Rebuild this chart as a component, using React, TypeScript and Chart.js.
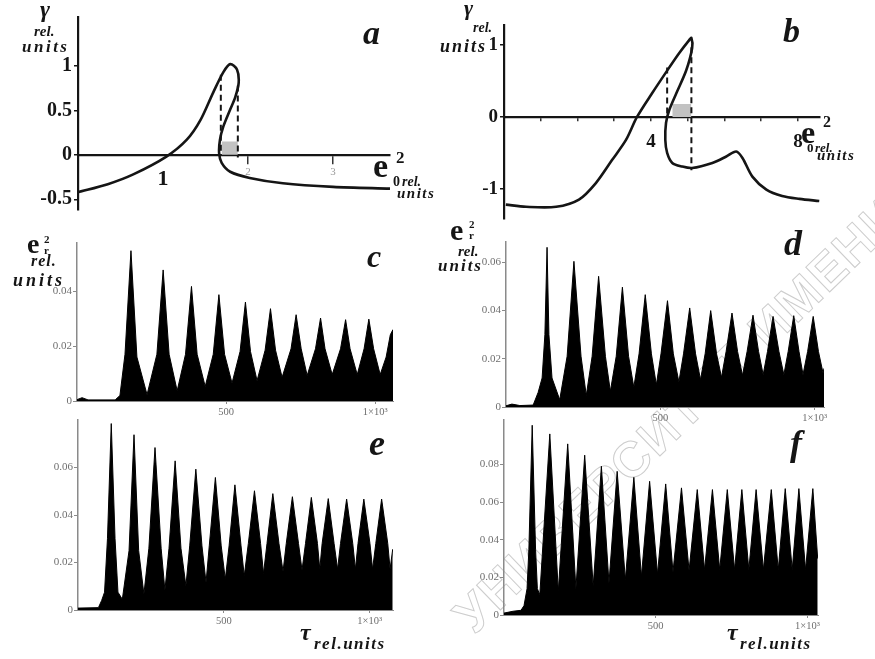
import React, { useEffect, useRef } from 'react';
import { Chart, registerables } from 'chart.js';

Chart.register(...registerables);

const W = 875;
const H = 659;
const SERIF = '"Liberation Serif", "DejaVu Serif", serif';

// ---------- panel a : gamma vs e0^2 ----------
const A_X = [0, 0.35, 0.65, 1.04, 1.28, 1.44, 1.59, 1.71, 1.79, 1.87, 1.89, 1.85, 1.79, 1.71, 1.67, 1.66, 1.69, 1.79, 2.02, 2.41, 3.0, 3.67];
const A_Y = [-0.42, -0.33, -0.22, -0.02, 0.17, 0.39, 0.7, 0.93, 1.02, 0.96, 0.81, 0.65, 0.51, 0.32, 0.17, 0.02, -0.09, -0.19, -0.26, -0.32, -0.36, -0.38];
const A_DASH_X = [1.68, 1.88];
const A_DASH_TOP = [0.9, 0.78];
const A_DASH_BOT = [0, -0.03];
const A_SHADE_X = [1.69, 1.88];
const A_SHADE_H = 0.15;
const A_XTICKS = [1, 2, 3];
const A_YTICKS = [-0.5, 0, 0.5, 1];

// ---------- panel b ----------
const B_X = [0.05, 0.6, 1.42, 2.04, 2.5, 2.94, 3.32, 3.62, 4.03, 4.5, 4.77, 5.04, 5.1, 5.12, 4.96, 4.69, 4.5, 4.41, 4.39, 4.44, 4.58, 4.85, 5.12, 5.67, 6.05, 6.32, 6.49, 6.76, 7.14, 7.57, 8.04, 8.58];
const B_Y = [-1.22, -1.25, -1.25, -1.15, -0.92, -0.6, -0.32, 0, 0.33, 0.69, 0.89, 1.07, 1.1, 0.96, 0.65, 0.33, 0.1, -0.08, -0.32, -0.5, -0.64, -0.69, -0.71, -0.64, -0.55, -0.48, -0.57, -0.83, -1.01, -1.1, -1.14, -1.17];
const B_DASH_X = [4.44, 5.1];
const B_DASH_TOP = [0.69, 0.97];
const B_DASH_BOT = [0, -0.74];
const B_SHADE_X = [4.58, 5.1];
const B_SHADE_H = 0.18;
const B_XTICKS = [1, 2, 3, 4, 5, 6, 7, 8];
const B_XLABELED = [4, 8];
const B_YTICKS = [-1, 0, 1];

// ---------- panels c-f : e_r^2 vs tau ----------
const T_TICKS = [500, 1000];

const C_TAU = [0, 17, 37, 128, 144, 161, 181, 201, 235, 268, 289, 309, 336, 364, 384, 403, 430, 457, 476, 495, 520, 547, 565, 582, 604, 631, 649, 666, 688, 718, 735, 752, 772, 800, 817, 832, 856, 884, 901, 916, 940, 963, 979, 995, 1017, 1037, 1051, 1060];
const C_E2 = [0.0005, 0.0012, 0.0004, 0.0004, 0.002, 0.017, 0.0547, 0.016, 0.0023, 0.017, 0.0477, 0.017, 0.0037, 0.017, 0.0417, 0.017, 0.0053, 0.017, 0.0387, 0.017, 0.0065, 0.018, 0.036, 0.018, 0.0074, 0.0185, 0.0336, 0.0185, 0.0086, 0.019, 0.0314, 0.019, 0.0093, 0.019, 0.0302, 0.019, 0.0096, 0.019, 0.0296, 0.019, 0.0096, 0.019, 0.0298, 0.019, 0.0096, 0.016, 0.0241, 0.026];
const C_YTICKS = [0, 0.02, 0.04];

const D_TAU = [0, 19, 45, 88, 104, 117, 126, 133, 139, 149, 174, 198, 220, 243, 260, 279, 300, 322, 338, 357, 377, 397, 414, 431, 451, 471, 487, 502, 523, 542, 560, 575, 595, 614, 630, 645, 663, 682, 698, 713, 732, 750, 766, 781, 800, 818, 833, 847, 865, 884, 900, 914, 932, 949, 962, 977, 995, 1012, 1027, 1030];
const D_E2 = [0.0005, 0.0012, 0.0006, 0.0008, 0.006, 0.012, 0.03, 0.0661, 0.03, 0.012, 0.003, 0.021, 0.0603, 0.021, 0.0048, 0.021, 0.0541, 0.021, 0.0065, 0.021, 0.0496, 0.021, 0.0082, 0.022, 0.0465, 0.022, 0.0092, 0.022, 0.044, 0.022, 0.0104, 0.022, 0.041, 0.022, 0.0113, 0.022, 0.0399, 0.022, 0.0123, 0.023, 0.0389, 0.023, 0.0131, 0.023, 0.038, 0.023, 0.0134, 0.023, 0.0375, 0.023, 0.0134, 0.023, 0.0378, 0.023, 0.0134, 0.023, 0.0375, 0.023, 0.014, 0.016];
const D_YTICKS = [0, 0.02, 0.04, 0.06];

const E_TAU = [0, 70, 81, 91, 101, 114, 127, 137, 152, 175, 192, 208, 226, 243, 264, 285, 298, 312, 333, 353, 370, 383, 404, 425, 439, 450, 471, 491, 505, 518, 538, 559, 570, 584, 605, 626, 636, 648, 668, 689, 703, 714, 735, 756, 768, 780, 800, 821, 829, 837, 858, 878, 890, 900, 921, 942, 951, 960, 980, 1001, 1010, 1021, 1041, 1062, 1070, 1079];
const E_E2 = [0.0008, 0.001, 0.004, 0.0075, 0.03, 0.0785, 0.03, 0.0075, 0.0045, 0.025, 0.0738, 0.025, 0.0067, 0.026, 0.0684, 0.026, 0.0083, 0.026, 0.0628, 0.026, 0.0102, 0.027, 0.0593, 0.027, 0.0116, 0.027, 0.0558, 0.027, 0.013, 0.027, 0.0527, 0.027, 0.0144, 0.028, 0.0502, 0.028, 0.0154, 0.028, 0.049, 0.028, 0.0162, 0.028, 0.0477, 0.028, 0.0168, 0.028, 0.0474, 0.028, 0.0172, 0.028, 0.0469, 0.028, 0.0172, 0.028, 0.0467, 0.028, 0.0172, 0.028, 0.0467, 0.028, 0.0172, 0.028, 0.0467, 0.028, 0.0172, 0.0256];
const E_YTICKS = [0, 0.02, 0.04, 0.06];

const F_TAU = [0, 30, 56, 66, 76, 82, 93, 104, 110, 118, 151, 179, 210, 237, 266, 294, 321, 346, 373, 400, 428, 453, 480, 506, 533, 557, 585, 610, 637, 661, 687, 711, 736, 760, 784, 807, 831, 855, 881, 904, 927, 950, 972, 994, 1018, 1034];
const F_E2 = [0.001, 0.002, 0.0025, 0.005, 0.014, 0.035, 0.1009, 0.035, 0.014, 0.0108, 0.0963, 0.0126, 0.091, 0.014, 0.085, 0.0153, 0.0791, 0.017, 0.0764, 0.0188, 0.0732, 0.0206, 0.0711, 0.0218, 0.0697, 0.0229, 0.0676, 0.0236, 0.0667, 0.0241, 0.0667, 0.0241, 0.0667, 0.0241, 0.0667, 0.0241, 0.0667, 0.0241, 0.0667, 0.0241, 0.0672, 0.0241, 0.0672, 0.0241, 0.0672, 0.03];
const F_YTICKS = [0, 0.02, 0.04, 0.06, 0.08];

type Area = { l: number; t: number; r: number; b: number };

const fixedTicks = (vals: number[]) => (s: any) => {
  s.ticks = vals.map((v) => ({ value: v }));
};
const pts = (xs: number[], ys: number[]) => xs.map((x, i) => ({ x, y: ys[i] }));

const baseOpts = (padding: any) => ({
  animation: false as const,
  responsive: false,
  events: [] as any[],
  layout: { padding },
  plugins: { legend: { display: false }, tooltip: { enabled: false } },
});

function curveChart(
  canvas: HTMLCanvasElement,
  p: {
    xs: number[]; ys: number[]; dashX: number[]; dashTop: number[]; dashBot: number[];
    shadeX: number[]; shadeH: number; area: Area; xMax: number; yMin: number; yMax: number;
    xTicks: number[]; yTicks: number[]; xLabel: (v: number) => string; xFont: (v: number) => any;
    xColor: (v: number) => string; xTickLen: number; xPad: number; xTickColor: (v: number) => string; yFontSize: number;
  },
) {
  const a = p.area;
  const datasets: any[] = [
    { data: pts(p.xs, p.ys), borderColor: '#151515', borderWidth: 2.6, tension: 0.3, pointRadius: 0, fill: false },
  ];
  p.dashX.forEach((x, i) => {
    datasets.push({
      data: [{ x, y: p.dashTop[i] }, { x, y: p.dashBot[i] }],
      borderColor: '#151515', borderWidth: 2, borderDash: [6, 4], pointRadius: 0, fill: false,
    });
  });
  datasets.push({
    data: [{ x: p.shadeX[0], y: p.shadeH }, { x: p.shadeX[1], y: p.shadeH }],
    borderWidth: 0, borderColor: 'rgba(0,0,0,0)', backgroundColor: '#c2c2c2', fill: 'origin', pointRadius: 0,
  });
  return new Chart(canvas, {
    type: 'line',
    data: { datasets },
    options: {
      ...baseOpts({ left: 0, top: a.t, right: W - a.r, bottom: H - a.b }),
      scales: {
        x: {
          type: 'linear', position: { y: 0 } as any, min: 0, max: p.xMax,
          afterFit: (s: any) => { s.height = 0; },
          afterBuildTicks: fixedTicks(p.xTicks),
          border: { display: true, color: '#151515', width: 2.2 },
          grid: {
            drawOnChartArea: false, drawTicks: true, tickLength: p.xTickLen, lineWidth: 1.5,
            color: '#151515', tickColor: (c: any) => p.xTickColor(c.tick ? c.tick.value : 0),
          },
          ticks: {
            autoSkip: false, maxRotation: 0, padding: p.xPad,
            color: (c: any) => p.xColor(c.tick ? c.tick.value : 0),
            font: (c: any) => p.xFont(c.tick ? c.tick.value : 0),
            callback: (v: any) => p.xLabel(Number(v)),
          },
        },
        y: {
          type: 'linear', position: 'left', min: p.yMin, max: p.yMax,
          afterFit: (s: any) => { s.width = a.l; },
          afterBuildTicks: fixedTicks(p.yTicks),
          border: { display: true, color: '#151515', width: 2.2 },
          grid: { drawOnChartArea: false, drawTicks: true, tickLength: 4, lineWidth: 1.5, color: '#151515' },
          ticks: {
            padding: 2, color: '#151515',
            font: { family: SERIF, size: p.yFontSize, weight: 'bold' },
            callback: (v: any) => String(v),
          },
        },
      },
    } as any,
  });
}

function signalChart(canvas: HTMLCanvasElement, tau: number[], e2: number[], a: Area, xMax: number, yMax: number, yTicks: number[]) {
  return new Chart(canvas, {
    type: 'line',
    data: {
      datasets: [
        { data: pts(tau, e2), borderColor: '#000', backgroundColor: '#000', borderWidth: 1, fill: 'origin', tension: 0, pointRadius: 0 },
      ],
    },
    options: {
      ...baseOpts({ left: 0, top: a.t, right: W - a.r, bottom: 0 }),
      scales: {
        x: {
          type: 'linear', position: 'bottom', min: 0, max: xMax,
          afterFit: (s: any) => { s.height = H - a.b; },
          afterBuildTicks: fixedTicks(T_TICKS),
          border: { display: true, color: '#8a8a8a', width: 1 },
          grid: { drawOnChartArea: false, tickLength: 3, color: '#8a8a8a' },
          ticks: {
            autoSkip: false, maxRotation: 0, padding: 2, color: '#6f6f6f',
            font: { family: SERIF, size: 10.5 },
            callback: (v: any) => (Number(v) === 1000 ? '1×10³' : String(v)),
          },
        },
        y: {
          type: 'linear', position: 'left', min: 0, max: yMax,
          afterFit: (s: any) => { s.width = a.l; },
          afterBuildTicks: fixedTicks(yTicks),
          border: { display: true, color: '#8a8a8a', width: 1.5 },
          grid: { drawOnChartArea: false, tickLength: 4, color: '#8a8a8a' },
          ticks: { padding: 1, color: '#6f6f6f', font: { family: SERIF, size: 11 }, callback: (v: any) => String(v) },
        },
      },
    } as any,
  });
}

type T = { t: string; x: number; y: number; s: number; i?: boolean; sp?: number };

const TEXTS: T[] = [
  // panel a
  { t: 'γ', x: 40, y: -3, s: 24, i: true },
  { t: 'rel.', x: 34, y: 24, s: 15, i: true },
  { t: 'units', x: 22, y: 38, s: 17, i: true, sp: 2.5 },
  { t: 'a', x: 363, y: 16, s: 34, i: true },
  { t: 'e', x: 373, y: 149, s: 34 },
  { t: '2', x: 396, y: 149, s: 17 },
  { t: '0', x: 393, y: 175, s: 14 },
  { t: 'rel.', x: 402, y: 175, s: 14, i: true },
  { t: 'units', x: 397, y: 186, s: 15, i: true, sp: 1.5 },
  // panel b
  { t: 'γ', x: 464, y: -3, s: 22, i: true },
  { t: 'rel.', x: 473, y: 21, s: 14, i: true },
  { t: 'units', x: 440, y: 37, s: 18, i: true, sp: 2 },
  { t: 'b', x: 783, y: 14, s: 34, i: true },
  { t: 'e', x: 801, y: 116, s: 32 },
  { t: '2', x: 823, y: 114, s: 16 },
  { t: '0', x: 807, y: 141, s: 13 },
  { t: 'rel.', x: 815, y: 141, s: 13, i: true },
  { t: 'units', x: 817, y: 148, s: 15, i: true, sp: 1.5 },
  // panel c
  { t: 'e', x: 27, y: 230, s: 28 },
  { t: '2', x: 44, y: 234, s: 11 },
  { t: 'r', x: 44, y: 245, s: 11 },
  { t: 'rel.', x: 31, y: 253, s: 16, i: true, sp: 1 },
  { t: 'units', x: 13, y: 271, s: 18, i: true, sp: 3 },
  { t: 'c', x: 367, y: 240, s: 32, i: true },
  // panel d
  { t: 'e', x: 450, y: 215, s: 30 },
  { t: '2', x: 469, y: 219, s: 11 },
  { t: 'r', x: 469, y: 230, s: 11 },
  { t: 'rel.', x: 458, y: 244, s: 15, i: true },
  { t: 'units', x: 438, y: 257, s: 17, i: true, sp: 2 },
  { t: 'd', x: 784, y: 225, s: 36, i: true },
  // panel e
  { t: 'e', x: 369, y: 425, s: 36, i: true },
  { t: 'τ', x: 300, y: 620, s: 24, i: true },
  { t: 'rel.units', x: 314, y: 635, s: 17, i: true, sp: 1.5 },
  // panel f
  { t: 'f', x: 790, y: 425, s: 36, i: true },
  { t: 'τ', x: 727, y: 620, s: 24, i: true },
  { t: 'rel.units', x: 740, y: 635, s: 17, i: true, sp: 1.5 },
];

export default function App() {
  const refs = [useRef<HTMLCanvasElement>(null), useRef<HTMLCanvasElement>(null), useRef<HTMLCanvasElement>(null),
    useRef<HTMLCanvasElement>(null), useRef<HTMLCanvasElement>(null), useRef<HTMLCanvasElement>(null)];

  useEffect(() => {
    const c = refs.map((r) => r.current as HTMLCanvasElement);
    const charts: Chart[] = [];
    charts.push(curveChart(c[0], {
      xs: A_X, ys: A_Y, dashX: A_DASH_X, dashTop: A_DASH_TOP, dashBot: A_DASH_BOT,
      shadeX: A_SHADE_X, shadeH: A_SHADE_H, area: { l: 78, t: 17, r: 390, b: 210 },
      xMax: 3.67, yMin: -0.62, yMax: 1.55, xTicks: A_XTICKS, yTicks: A_YTICKS,
      xLabel: (v) => String(v),
      xFont: (v) => (v === 1 ? { family: SERIF, size: 22, weight: 'bold' } : { family: SERIF, size: 11 }),
      xColor: (v) => (v === 1 ? '#151515' : '#9a9a9a'),
      xTickLen: 8, xPad: 3,
      xTickColor: (v) => (v === 1 ? 'rgba(0,0,0,0)' : '#333'),
      yFontSize: 20,
    }));
    charts.push(curveChart(c[1], {
      xs: B_X, ys: B_Y, dashX: B_DASH_X, dashTop: B_DASH_TOP, dashBot: B_DASH_BOT,
      shadeX: B_SHADE_X, shadeH: B_SHADE_H, area: { l: 504, t: 25, r: 820, b: 219 },
      xMax: 8.6, yMin: -1.42, yMax: 1.28, xTicks: B_XTICKS, yTicks: B_YTICKS,
      xLabel: (v) => (B_XLABELED.includes(v) ? String(v) : ''),
      xFont: () => ({ family: SERIF, size: 19, weight: 'bold' }),
      xColor: () => '#151515',
      xTickLen: 3, xPad: 11,
      xTickColor: () => '#333',
      yFontSize: 19,
    }));
    charts.push(signalChart(c[2], C_TAU, C_E2, { l: 77, t: 243, r: 393, b: 401 }, 1060, 0.0575, C_YTICKS));
    charts.push(signalChart(c[3], D_TAU, D_E2, { l: 506, t: 242, r: 824, b: 407 }, 1030, 0.0683, D_YTICKS));
    charts.push(signalChart(c[4], E_TAU, E_E2, { l: 78, t: 420, r: 393, b: 610 }, 1080, 0.08, E_YTICKS));
    charts.push(signalChart(c[5], F_TAU, F_E2, { l: 504, t: 420, r: 818, b: 615 }, 1035, 0.1037, F_YTICKS));
    return () => charts.forEach((ch) => ch.destroy());
  }, []);

  return (
    <div style={{ position: 'fixed', left: 0, top: 0, width: W, height: H, background: '#fff', overflow: 'hidden' }}>
      <div
        style={{
          position: 'absolute', left: 445, top: 605, fontFamily: '"Liberation Sans", sans-serif', fontSize: 50,
          fontWeight: 700, color: 'transparent', WebkitTextStroke: '1px #cdcdcd', whiteSpace: 'nowrap',
          transform: 'rotate(-44deg)', transformOrigin: '0 0', letterSpacing: 2, lineHeight: 1,
        } as any}
      >
        УНИВЕРСИТЕТ ИМЕНИ
      </div>
      {refs.map((r, i) => (
        <canvas key={i} ref={r} width={W} height={H} style={{ position: 'absolute', left: 0, top: 0, width: W, height: H }} />
      ))}
      {TEXTS.map((t, i) => (
        <div
          key={'t' + i}
          style={{
            position: 'absolute', left: t.x, top: t.y, fontFamily: SERIF, fontSize: t.s,
            fontStyle: t.i ? 'italic' : 'normal', fontWeight: 700, lineHeight: 1,
            whiteSpace: 'nowrap', color: '#151515', letterSpacing: t.sp || 0,
          }}
        >
          {t.t}
        </div>
      ))}
    </div>
  );
}
